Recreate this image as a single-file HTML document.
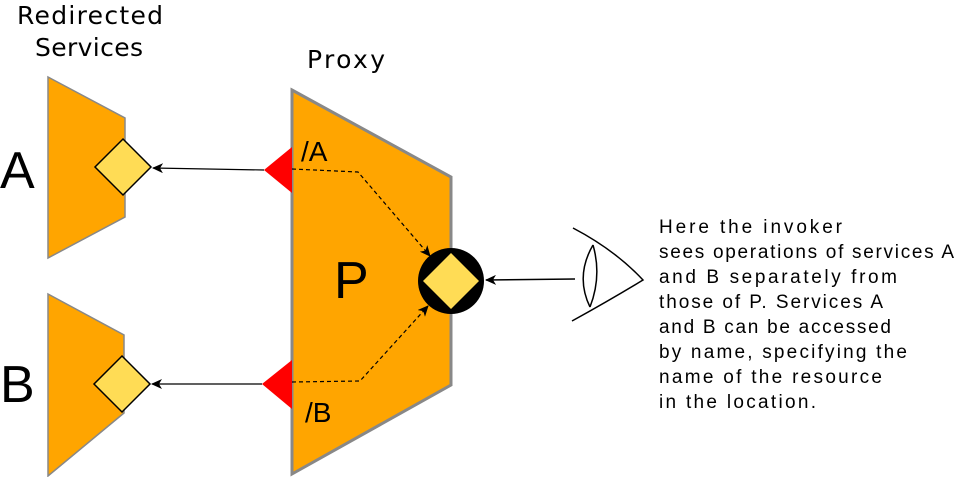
<!DOCTYPE html>
<html><head><meta charset="utf-8"><style>
html,body{margin:0;padding:0;background:#fff;}
svg{display:block;}
text{font-family:"Liberation Sans","DejaVu Sans",sans-serif;}
.hand{font-family:"DejaVu Sans","Liberation Sans",sans-serif;font-size:19px;}
</style></head><body>
<svg width="955" height="477" viewBox="0 0 955 477">
<defs>
<marker id="ah" markerWidth="12" markerHeight="10" refX="10" refY="5" orient="auto" markerUnits="userSpaceOnUse">
<path d="M0,0 L11,5 L0,10 L3,5 Z" fill="#000"/>
</marker>
</defs>
<text x="17" y="24" class="hand" style="font-size:25px" textLength="146">Redirected</text>
<text x="35" y="56" class="hand" style="font-size:25px" textLength="108">Services</text>
<text x="307" y="68" class="hand" style="font-size:25px" textLength="78">Proxy</text>

<polygon points="48,77 125,118 125,217 48,258" fill="#ffa500" stroke="#888" stroke-width="1.5"/>
<polygon points="48,294 124,335 124,413 48,476" fill="#ffa500" stroke="#888" stroke-width="1.5"/>
<polygon points="123,139 151,167 123,195 95,167" fill="#ffdc55" stroke="#000" stroke-width="1.5"/>
<polygon points="122,356 150,384 122,412 94,384" fill="#ffdc55" stroke="#000" stroke-width="1.5"/>
<text x="0" y="188" font-size="52">A</text>
<text x="0" y="402" font-size="52">B</text>

<polygon points="292,90 451,177 451,385 292,474" fill="#ffa500" stroke="#888" stroke-width="3"/>
<polygon points="292,147 264,170 292,193" fill="#ff0000"/>
<polygon points="292,360 262,384 292,409" fill="#ff0000"/>
<text x="301" y="161" font-size="28">/A</text>
<text x="305" y="422" font-size="28">/B</text>
<text x="334" y="298" font-size="52">P</text>

<line x1="264" y1="170" x2="153" y2="168" stroke="#000" stroke-width="1.2" marker-end="url(#ah)"/>
<line x1="262" y1="384" x2="152" y2="384" stroke="#000" stroke-width="1.2" marker-end="url(#ah)"/>
<polyline points="292,169 358,172 430,256" fill="none" stroke="#000" stroke-width="1.2" stroke-dasharray="4,3" marker-end="url(#ah)"/>
<polyline points="292,382 360,381 428,306" fill="none" stroke="#000" stroke-width="1.2" stroke-dasharray="4,3" marker-end="url(#ah)"/>

<circle cx="451" cy="281" r="33" fill="#000"/>
<polygon points="451,253 479,281 451,309 423,281" fill="#ffdc55"/>
<line x1="575" y1="279" x2="486" y2="280" stroke="#000" stroke-width="1.5" marker-end="url(#ah)"/>

<g fill="none" stroke="#000" stroke-width="1.5">
<path d="M573,228 Q615,250 643,280 Q610,300 572,321"/>
<path d="M593,245 Q575,276 590,307"/>
<path d="M593,245 Q602,276 590,307"/>
</g>

<g class="hand">
<text x="659" y="233" textLength="183">Here the invoker</text>
<text x="659" y="258" textLength="295">sees operations of services A</text>
<text x="659" y="283" textLength="238">and B separately from</text>
<text x="659" y="308" textLength="224">those of P. Services A</text>
<text x="659" y="333" textLength="232">and B can be accessed</text>
<text x="659" y="358" textLength="248">by name, specifying the</text>
<text x="659" y="383" textLength="223">name of the resource</text>
<text x="659" y="408" textLength="157">in the location.</text>
</g>
</svg>
</body></html>
